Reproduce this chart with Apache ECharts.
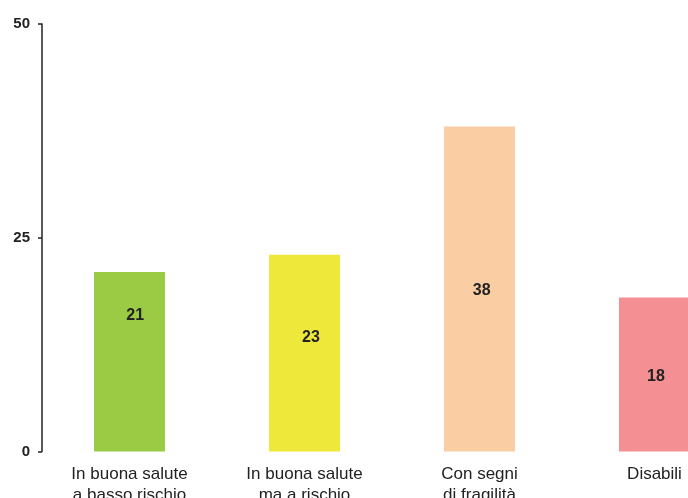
<!DOCTYPE html>
<html>
<head>
<meta charset="utf-8">
<script src="https://cdn.jsdelivr.net/npm/echarts@6/dist/echarts.min.js"></script>
<style>
  html, body { margin: 0; padding: 0; background: #fff; }
  #main { width: 688px; height: 498px; }
</style>
</head>
<body>
<div id="main"></div>
<script>
// dati
let categorie = ['In buona salute\na basso rischio', 'In buona salute\nma a rischio', 'Con segni\ndi fragilità', 'Disabili']
let valori = [21, 23, 38, 18]
let yTicks = [0, 25, 50]
let colori = ['#9bcb44', '#eee83b', '#fbcda3', '#f49093']
// posizione delle etichette dentro le barre (come nel grafico originale)
let posEtichette = [['58%', '23%'], ['59%', '41%'], ['53%', '50%'], ['52%', '50%']]

let ele = echarts.init(document.getElementById('main'))

let dati = valori.map((v, i) => ({
    value: v,
    itemStyle: { color: colori[i] },
    label: { position: posEtichette[i] }
}))

const option = {
    animation: false,
    grid: {
        left: 42,
        top: 24,
        bottom: 46.5,
        right: -54,
        containLabel: false,
        outerBoundsMode: 'none'
    },
    xAxis: {
        type: 'category',
        data: categorie,
        axisLine: { show: false },
        axisTick: { show: false },
        axisLabel: {
            interval: 0,
            margin: 12,
            fontFamily: 'Liberation Sans, Arial, sans-serif',
            fontSize: 17,
            lineHeight: 21,
            color: '#222'
        }
    },
    yAxis: {
        type: 'value',
        min: yTicks[0],
        max: yTicks[yTicks.length - 1],
        interval: 25,
        splitLine: { show: false },
        axisLine: { show: true, lineStyle: { color: '#222', width: 1.5 } },
        axisTick: { show: true, length: 4, lineStyle: { color: '#222', width: 1.5 } },
        axisLabel: {
            margin: 12,
            fontFamily: 'Liberation Sans, Arial, sans-serif',
            fontWeight: 'bold',
            fontSize: 15,
            color: '#222'
        }
    },
    series: [{
        type: 'bar',
        barWidth: 71,
        data: dati,
        label: {
            show: true,
            align: 'center',
            verticalAlign: 'middle',
            offset: [0, 2],
            fontFamily: 'Liberation Sans, Arial, sans-serif',
            fontWeight: 'bold',
            fontSize: 16,
            color: '#222'
        }
    }]
}
ele.setOption(option)
</script>
</body>
</html>
